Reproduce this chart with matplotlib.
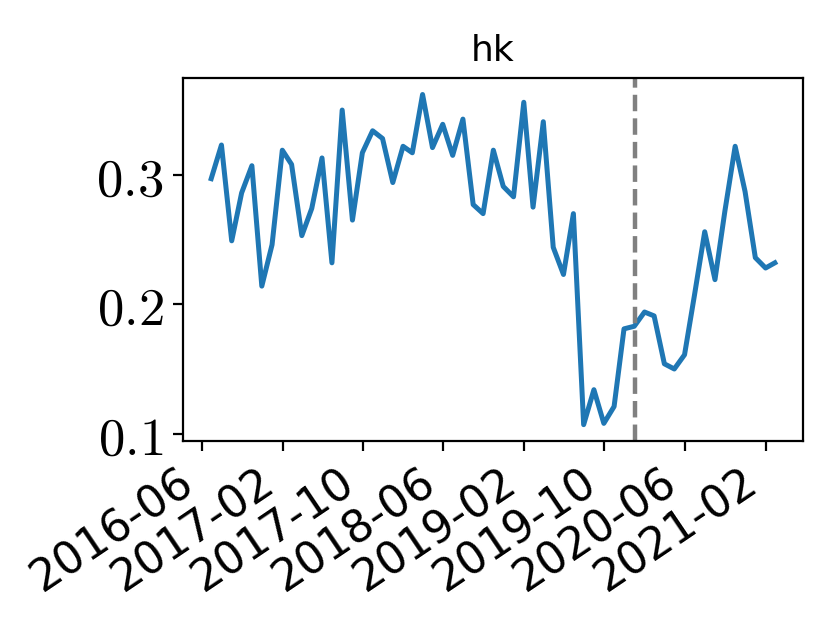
import matplotlib
matplotlib.use('Agg')
import matplotlib.pyplot as plt
import matplotlib.dates as mdates
from matplotlib.ticker import FuncFormatter
import pandas as pd

plt.rcParams['mathtext.fontset'] = 'cm'

# serie mensual (fin de mes) de 2016-06 a 2021-02
start = '2016-06-30'
values = [0.297, 0.323, 0.249, 0.286, 0.307, 0.214, 0.246, 0.319, 0.308, 0.253,
          0.274, 0.313, 0.232, 0.350, 0.265, 0.317, 0.334, 0.328, 0.294, 0.322,
          0.317, 0.362, 0.321, 0.339, 0.315, 0.343, 0.277, 0.270, 0.319, 0.291,
          0.283, 0.356, 0.275, 0.341, 0.244, 0.223, 0.270, 0.107, 0.134, 0.108,
          0.121, 0.181, 0.183, 0.194, 0.191, 0.154, 0.150, 0.161, 0.207, 0.256,
          0.219, 0.272, 0.322, 0.287, 0.236, 0.228, 0.232]
event_date = '2020-01-01'
title = 'hk'
tick_start = '2016-06-01'

dates = pd.date_range(start, periods=len(values), freq='ME')

fig, ax = plt.subplots(figsize=(4.15, 3.12), dpi=200)
fig.subplots_adjust(left=0.2205, right=0.9675, top=0.875, bottom=0.293)

ax.plot(dates, values, color='#1f77b4', lw=1.8)
ax.axvline(pd.Timestamp(event_date), color='gray', ls='--', lw=1.6)

ax.set_xticks(pd.date_range(tick_start, periods=8, freq='8MS'))
ax.xaxis.set_major_formatter(mdates.DateFormatter('%Y-%m'))
ax.yaxis.set_major_formatter(FuncFormatter(lambda v, p: f'${v:.1f}$'))
ax.set_yticks([0.1, 0.2, 0.3])
ax.tick_params(axis='y', labelsize=19)
ax.tick_params(axis='x', labelsize=16)
for lbl in ax.get_xticklabels():
    lbl.set_rotation(34)
    lbl.set_ha('right')

ax.set_title(title, fontsize=13)

fig.savefig('out.png', dpi=200)
